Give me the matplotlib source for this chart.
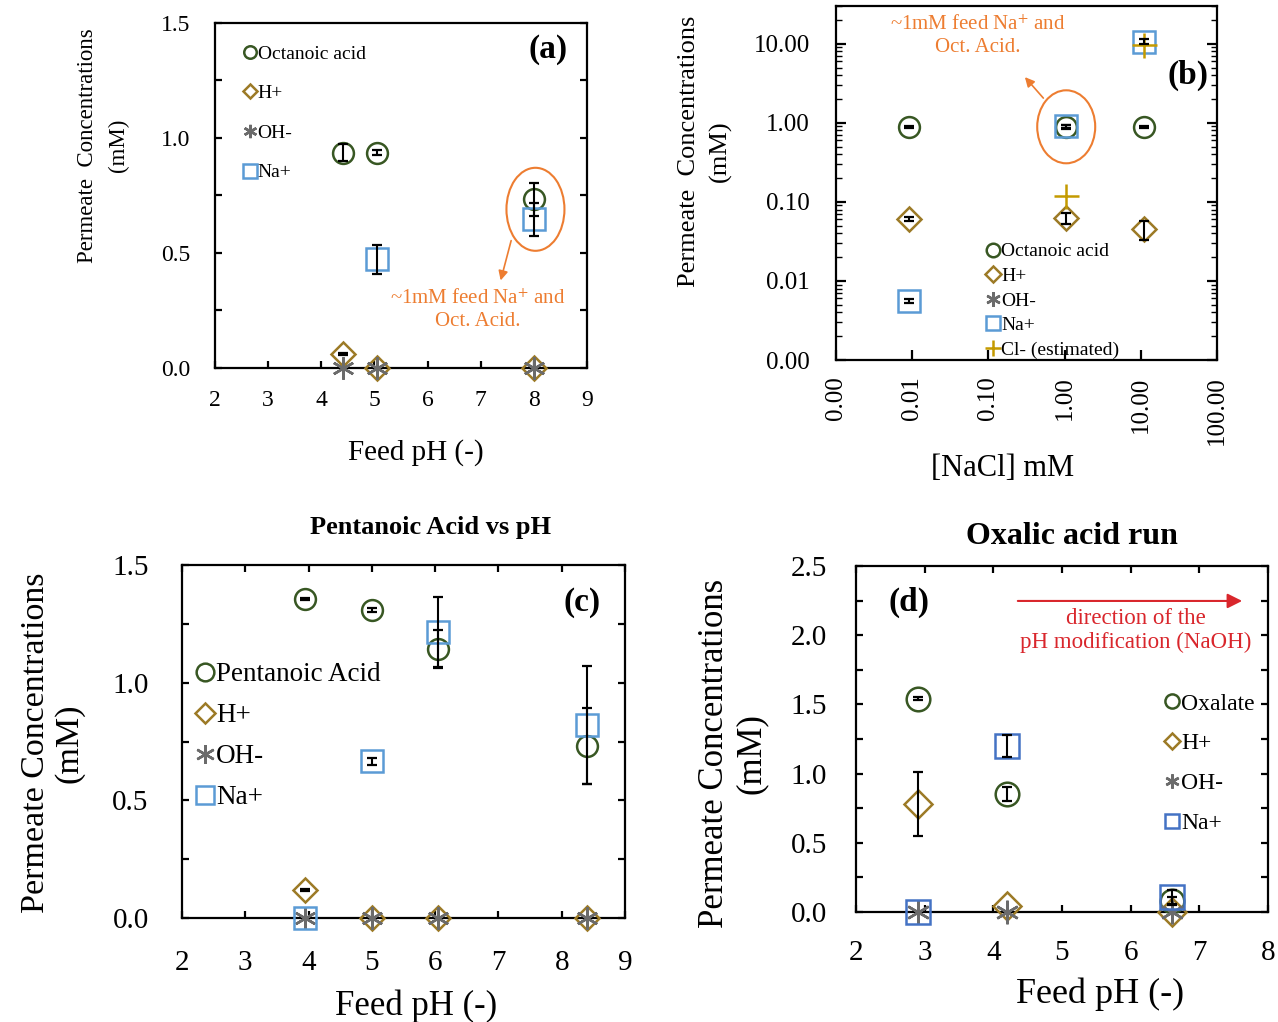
import numpy as np
import matplotlib.pyplot as plt
from matplotlib.ticker import MultipleLocator, FuncFormatter, LogLocator, NullLocator
from matplotlib.patches import Ellipse
from matplotlib.transforms import ScaledTranslation

plt.rcParams['font.family'] = ['Liberation Serif', 'DejaVu Serif']
plt.rcParams['mathtext.fontset'] = 'stix'

# (a) octanoic acid, permeate vs feed pH
ph_a = [4.4, 5.05, 8.0]
oct_a = [0.936, 0.936, 0.733]
oct_a_err = [0.037, 0.012, 0.07]
h_a = [0.06, 0.0, 0.0]
h_a_err = [0.005, 0.0, 0.0]
oh_a = [0.0, 0.0, 0.0]
na_a = [np.nan, 0.472, 0.646]
na_a_err = [0.0, 0.062, 0.072]

# (b) octanoic acid, permeate vs NaCl in feed
nacl_b = [0.009, 1.05, 11.0]
oct_b = [0.89, 0.89, 0.89]
oct_b_err = [0.03, 0.05, 0.03]
h_b = [0.061, 0.062, 0.045]
h_b_err = [0.004, 0.01, 0.012]
oh_b = [1e-8, 1e-8, 1e-8]
na_b = [0.0056, 0.9, 10.6]
na_b_err = [0.0003, 0.05, 0.8]
cl_b = [np.nan, 0.119, 9.5]

# (c) pentanoic acid vs feed pH
ph_c = [3.95, 5.0, 6.05, 8.4]
pent_c = [1.356, 1.309, 1.143, 0.731]
pent_c_err = [0.005, 0.01, 0.08, 0.16]
h_c = [0.119, 0.0, 0.0, 0.0]
h_c_err = [0.005, 0.0, 0.0, 0.0]
oh_c = [0.0, 0.0, 0.0, 0.0]
na_c = [0.0, 0.667, 1.215, 0.82]
na_c_err = [0.0, 0.015, 0.15, 0.25]

# (d) oxalic acid run
ph_d = [2.9, 4.2, 6.6]
ox_d = [1.54, 0.853, 0.08]
ox_d_err = [0.01, 0.05, 0.03]
h_d = [0.78, 0.04, 0.0]
h_d_err = [0.23, 0.0, 0.0]
oh_d = [0.0, 0.0, 0.0]
na_d = [0.0, 1.2, 0.11]
na_d_err = [0.0, 0.08, 0.05]

GREEN = '#385723'
GOLD = '#9C7A26'
GREY = '#6B6B6B'
BLUE = '#5B9BD5'
BLUE_D = '#4472C4'
CL = '#C49A00'
ORANGE = '#ED7D31'
RED = '#D9262C'
ASTER = (6, 2, 0)

W, H = 1278, 1022
fig = plt.figure(figsize=(W / 100, H / 100), dpi=100)


def box(l, t, r, b):
    return fig.add_axes([l / W, 1 - b / H, (r - l) / W, (b - t) / H])


def series(ax, x, y, err, marker, color, ms, label):
    ax.plot(x, y, ls='none', marker=marker, ms=ms, mfc='none', mec=color,
            mew=1.8, label=label, zorder=3, clip_on=False)
    if err is None:
        return
    x, y, err = map(np.asarray, (x, y, err))
    keep = (err > 0) & ~np.isnan(y)
    if keep.any():
        ax.errorbar(x[keep], y[keep], yerr=err[keep], fmt='none', ecolor='black',
                    elinewidth=1.5, capsize=3.5, capthick=1.6, zorder=4)


def frame(ax, lw=1.6):
    for s in ax.spines.values():
        s.set_linewidth(lw)


def legend(ax, fs, anchor, spacing, scale, pad):
    ax.legend(loc='upper left', bbox_to_anchor=anchor, frameon=False, fontsize=fs,
              borderpad=0, borderaxespad=0, handlelength=0.5, handletextpad=pad,
              labelspacing=spacing, markerscale=scale)


# ---------- (a) ----------
ax = box(215, 23, 587, 368)
series(ax, ph_a, oct_a, oct_a_err, 'o', GREEN, 15, 'Octanoic acid')
series(ax, ph_a, h_a, h_a_err, 'D', GOLD, 12, 'H+')
series(ax, ph_a, oh_a, None, ASTER, GREY, 16, 'OH-')
series(ax, ph_a, na_a, na_a_err, 's', BLUE, 16, 'Na+')
ax.set_xlim(2, 9)
ax.set_ylim(0, 1.5)
ax.xaxis.set_major_locator(MultipleLocator(1))
ax.yaxis.set_major_locator(MultipleLocator(0.5))
ax.yaxis.set_minor_locator(MultipleLocator(0.25))
ax.yaxis.set_major_formatter(FuncFormatter(lambda v, p: f'{v:.1f}'))
ax.tick_params(which='both', direction='in', length=5, width=1.6, right=True, top=False,
               labelsize=17)
ax.tick_params(axis='y', pad=18)
ax.tick_params(axis='x', pad=16)
frame(ax)
ax.set_xlabel('Feed pH (-)', fontsize=21)
ax.xaxis.set_label_coords(0.54, -0.207)
ax.set_ylabel('Permeate  Concentrations\n(mM)', fontsize=16.5, linespacing=1.6)
ax.yaxis.set_label_coords(-0.232, 0.646)
legend(ax, 14, (0.081, 0.936), 1.13, 0.6, 0.14)
ax.text(0.895, 0.922, '(a)', transform=ax.transAxes, fontsize=24, fontweight='bold',
        ha='center', va='center')
tr = fig.dpi_scale_trans + ScaledTranslation(8.03, 0.69, ax.transData)
ax.add_patch(Ellipse((0, 0), 0.58, 0.83, transform=tr, fill=False, ec=ORANGE, lw=1.5,
                     zorder=5, clip_on=False))
ax.annotate('', xy=(0.766, 0.246), xytext=(0.798, 0.377), xycoords='axes fraction',
            arrowprops=dict(arrowstyle='-|>', color=ORANGE, lw=1.2, mutation_scale=14))
ax.text(0.707, 0.168, '~1mM feed Na$^{+}$ and\nOct. Acid.', transform=ax.transAxes,
        fontsize=15, color=ORANGE, ha='center', va='center', linespacing=1.25)

# ---------- (b) ----------
ax = box(836, 6, 1217, 360)
series(ax, nacl_b, oct_b, oct_b_err, 'o', GREEN, 15, 'Octanoic acid')
series(ax, nacl_b, h_b, h_b_err, 'D', GOLD, 12, 'H+')
ax.plot(nacl_b, oh_b, ls='none', marker=ASTER, ms=16, mfc='none', mec=GREY, mew=1.8,
        label='OH-')
series(ax, nacl_b, na_b, na_b_err, 's', BLUE, 16, 'Na+')
ax.plot(nacl_b, cl_b, ls='none', marker='+', ms=18, mec=CL, mew=1.8,
        label='Cl- (estimated)', zorder=3)
ax.set_xscale('log')
ax.set_yscale('log')
ax.set_xlim(1e-3, 1e2)
ax.set_ylim(1e-3, 30)
fmt2 = FuncFormatter(lambda v, p: f'{v:.2f}')
ax.xaxis.set_major_formatter(fmt2)
ax.yaxis.set_major_formatter(fmt2)
ax.xaxis.set_major_locator(LogLocator(base=10, numticks=10))
ax.xaxis.set_minor_locator(NullLocator())
ax.yaxis.set_major_locator(LogLocator(base=10, numticks=10))
ax.yaxis.set_minor_locator(LogLocator(base=10, subs=np.arange(2, 10), numticks=10))
ax.tick_params(which='major', direction='in', length=7, width=1.6, right=True, top=False,
               labelsize=18)
ax.tick_params(which='minor', direction='in', length=4, width=1.0, right=True, top=False)
ax.tick_params(axis='y', which='both', pad=19)
ax.tick_params(axis='x', pad=12, labelrotation=90)
frame(ax)
ax.set_xlabel('[NaCl] mM', fontsize=22)
ax.xaxis.set_label_coords(0.438, -0.266)
ax.set_ylabel('Permeate  Concentrations\n(mM)', fontsize=19, linespacing=1.5)
ax.yaxis.set_label_coords(-0.273, 0.59)
legend(ax, 14, (0.399, 0.331), 0.36, 0.65, 0.18)
ax.text(0.924, 0.805, '(b)', transform=ax.transAxes, fontsize=24, fontweight='bold',
        ha='center', va='center')
tr = fig.dpi_scale_trans + ScaledTranslation(1.05, 0.89, ax.transData)
ax.add_patch(Ellipse((0, 0), 0.58, 0.73, transform=tr, fill=False, ec=ORANGE, lw=1.5,
                     zorder=5))
ax.annotate('', xy=(0.491, 0.805), xytext=(0.549, 0.734), xycoords='axes fraction',
            arrowprops=dict(arrowstyle='-|>', color=ORANGE, lw=1.2, mutation_scale=14))
ax.text(0.373, 0.914, '~1mM feed Na$^{+}$ and\nOct. Acid.', transform=ax.transAxes,
        fontsize=15, color=ORANGE, ha='center', va='center', linespacing=1.25)

# ---------- (c) ----------
ax = box(182, 565, 625, 918)
series(ax, ph_c, pent_c, pent_c_err, 'o', GREEN, 15, 'Pentanoic Acid')
series(ax, ph_c, h_c, h_c_err, 'D', GOLD, 12, 'H+')
series(ax, ph_c, oh_c, None, ASTER, GREY, 16, 'OH-')
series(ax, ph_c, na_c, na_c_err, 's', BLUE, 16, 'Na+')
ax.set_xlim(2, 9)
ax.set_ylim(0, 1.5)
ax.xaxis.set_major_locator(MultipleLocator(1))
ax.yaxis.set_major_locator(MultipleLocator(0.5))
ax.yaxis.set_minor_locator(MultipleLocator(0.25))
ax.yaxis.set_major_formatter(FuncFormatter(lambda v, p: f'{v:.1f}'))
ax.tick_params(which='both', direction='in', length=5, width=1.6, right=True, top=True,
               labelsize=21)
ax.tick_params(axis='y', pad=24)
ax.tick_params(axis='x', pad=23)
frame(ax)
ax.set_xlabel('Feed pH (-)', fontsize=25)
ax.xaxis.set_label_coords(0.528, -0.203)
ax.set_ylabel('Permeate Concentrations\n(mM)', fontsize=24.5, linespacing=1.15)
ax.yaxis.set_label_coords(-0.219, 0.496)
legend(ax, 19.5, (0.036, 0.725), 0.59, 0.85, 0.17)
ax.text(0.903, 0.895, '(c)', transform=ax.transAxes, fontsize=24, fontweight='bold',
        ha='center', va='center')
ax.text(0.56, 1.105, 'Pentanoic Acid vs pH', transform=ax.transAxes, fontsize=19,
        fontweight='bold', ha='center', va='center')

# ---------- (d) ----------
ax = box(856, 566, 1268, 912)
series(ax, ph_d, ox_d, ox_d_err, 'o', GREEN, 17, 'Oxalate')
series(ax, ph_d, h_d, h_d_err, 'D', GOLD, 14, 'H+')
series(ax, ph_d, oh_d, None, ASTER, GREY, 17, 'OH-')
series(ax, ph_d, na_d, na_d_err, 's', BLUE_D, 17, 'Na+')
ax.set_xlim(2, 8)
ax.set_ylim(0, 2.5)
ax.xaxis.set_major_locator(MultipleLocator(1))
ax.yaxis.set_major_locator(MultipleLocator(0.5))
ax.yaxis.set_minor_locator(MultipleLocator(0.25))
ax.yaxis.set_major_formatter(FuncFormatter(lambda v, p: f'{v:.1f}'))
ax.tick_params(which='both', direction='in', length=5, width=1.6, right=True, top=True,
               labelsize=21)
ax.tick_params(axis='y', pad=21)
ax.tick_params(axis='x', pad=20)
frame(ax)
ax.set_xlabel('Feed pH (-)', fontsize=26)
ax.xaxis.set_label_coords(0.592, -0.19)
ax.set_ylabel('Permeate Concentrations\n(mM)', fontsize=25, linespacing=1.15)
ax.yaxis.set_label_coords(-0.214, 0.458)
legend(ax, 17, (0.752, 0.633), 0.78, 0.6, 0.15)
ax.text(0.129, 0.896, '(d)', transform=ax.transAxes, fontsize=24, fontweight='bold',
        ha='center', va='center')
ax.text(0.524, 1.084, 'Oxalic acid run', transform=ax.transAxes, fontsize=23,
        fontweight='bold', ha='center', va='center')
ax.annotate('', xy=(0.944, 0.899), xytext=(0.386, 0.899), xycoords='axes fraction',
            arrowprops=dict(arrowstyle='-|>', color=RED, lw=1.5, mutation_scale=22))
ax.text(0.68, 0.814, 'direction of the\npH modification (NaOH)', transform=ax.transAxes,
        fontsize=16.5, color=RED, ha='center', va='center', linespacing=1.15)

fig.savefig('out.png', dpi=100)
